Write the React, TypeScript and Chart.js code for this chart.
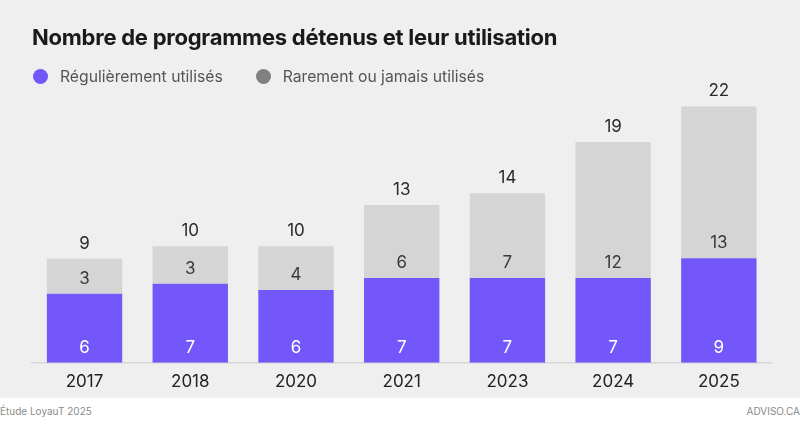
import React, { useEffect, useRef } from "react";
import { Chart, registerables } from "chart.js";

Chart.register(...registerables);

const categories = ["2017", "2018", "2020", "2021", "2023", "2024", "2025"];
const regularValues = [5.93, 6.79, 6.25, 7.28, 7.28, 7.28, 8.97];
const rareValues = [3.01, 3.21, 3.75, 6.27, 7.27, 11.68, 13.06];
const regularLabels = ["6", "7", "6", "7", "7", "7", "9"];
const rareLabels = ["3", "3", "4", "6", "7", "12", "13"];
const totalLabels = ["9", "10", "10", "13", "14", "19", "22"];
const seriesNames = ["Régulièrement utilisés", "Rarement ou jamais utilisés"];

const PURPLE = "#7357fa";
const GRAY_BAR = "#d5d5d5";
const GRAY_DOT = "#808080";
const FONT = "Inter, 'Noto Sans', sans-serif";

const labelPlugin = {
  id: "stackLabels",
  afterDatasetsDraw(chart: any) {
    const ctx = chart.ctx;
    const m0 = chart.getDatasetMeta(0);
    const m1 = chart.getDatasetMeta(1);
    ctx.save();
    ctx.font = "17px " + FONT;
    ctx.textAlign = "center";
    ctx.textBaseline = "middle";
    for (let i = 0; i < categories.length; i++) {
      const b0 = m0.data[i];
      const b1 = m1.data[i];
      ctx.fillStyle = "#ffffff";
      ctx.fillText(regularLabels[i], b0.x, b0.base - 15);
      ctx.fillStyle = "#3a3a3a";
      ctx.fillText(rareLabels[i], b1.x, b1.base - 15);
      ctx.fillStyle = "#2a2a2a";
      ctx.fillText(totalLabels[i], b1.x, b1.y - 15);
    }
    ctx.restore();
  },
};

export default function App() {
  const canvasRef = useRef<HTMLCanvasElement | null>(null);

  useEffect(() => {
    document.body.style.margin = "0";
    const canvas = canvasRef.current;
    if (!canvas) return;
    const chart = new Chart(canvas, {
      type: "bar",
      data: {
        labels: categories,
        datasets: [
          {
            label: seriesNames[0],
            data: regularValues,
            backgroundColor: PURPLE,
            borderWidth: 0,
          },
          {
            label: seriesNames[1],
            data: rareValues,
            backgroundColor: GRAY_BAR,
            borderWidth: 0,
          },
        ],
      },
      options: {
        animation: false,
        responsive: true,
        maintainAspectRatio: false,
        layout: { padding: { top: 106.3, left: 31.7, right: 28.3, bottom: 0 } },
        datasets: { bar: { categoryPercentage: 1, barPercentage: 0.713 } },
        plugins: {
          legend: { display: false },
          title: { display: false },
          tooltip: { enabled: false },
        },
        scales: {
          x: {
            stacked: true,
            grid: { display: false, drawTicks: false },
            border: { display: true, color: "#d6d6d6", width: 1.5 },
            ticks: {
              color: "#222222",
              padding: 9,
              font: { family: FONT, size: 17 },
            },
            afterFit: (scale: any) => {
              scale.height = 35.3;
            },
          },
          y: {
            stacked: true,
            display: false,
            min: 0,
            max: 22.03,
          },
        },
      },
      plugins: [labelPlugin],
    });
    return () => chart.destroy();
  }, []);

  const dot = (color: string) => ({
    display: "inline-block",
    width: 15,
    height: 15,
    borderRadius: "50%",
    background: color,
    marginRight: 12,
  });

  return (
    <div style={{ position: "absolute", left: 0, top: 0, width: 800, height: 424, background: "#ffffff", fontFamily: FONT }}>
      <div style={{ position: "absolute", left: 0, top: 0, width: 800, height: 398, background: "#efefef" }}>
        <canvas ref={canvasRef} />
      </div>
      <div
        style={{
          position: "absolute",
          left: 32,
          top: 24,
          fontSize: 22,
          fontWeight: 700,
          color: "#1a1a1a",
          letterSpacing: -0.25,
          whiteSpace: "nowrap",
        }}
      >
        Nombre de programmes détenus et leur utilisation
      </div>
      <div
        style={{
          position: "absolute",
          left: 33,
          top: 67,
          display: "flex",
          alignItems: "center",
          fontSize: 15.7,
          color: "#555555",
          whiteSpace: "nowrap",
        }}
      >
        <span style={dot(PURPLE)} />
        <span style={{ marginRight: 33 }}>{seriesNames[0]}</span>
        <span style={dot(GRAY_DOT)} />
        <span>{seriesNames[1]}</span>
      </div>
      <div style={{ position: "absolute", left: 0, top: 405, fontSize: 10, color: "#8a8a8a" }}>Étude LoyauT 2025</div>
      <div style={{ position: "absolute", right: 0, top: 405, fontSize: 10, color: "#8a8a8a" }}>ADVISO.CA</div>
    </div>
  );
}
